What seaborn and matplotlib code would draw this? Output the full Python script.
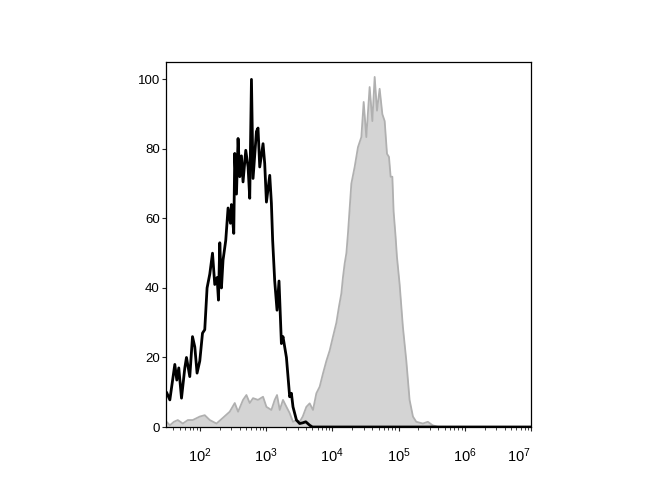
#!/usr/bin/env python3
import numpy as np
import pandas as pd
import matplotlib
matplotlib.use("Agg")
import matplotlib.pyplot as plt
import matplotlib.ticker as mticker
import seaborn as sns

# stained sample (gray filled), decades of fluorescence and % of max
gray_log = [1.498, 1.548, 1.61, 1.668, 1.744, 1.82, 1.894,
            2.0, 2.075, 2.151, 2.252, 2.347, 2.452, 2.528, 2.578, 2.653, 2.704, 2.754, 2.804, 2.879, 2.955,
            3.006, 3.081, 3.131, 3.166, 3.207, 3.256, 3.308, 3.357, 3.407, 3.459, 3.508, 3.554, 3.609, 3.659,
            3.709, 3.760, 3.810, 3.860, 3.911, 3.961,
            4.011, 4.062, 4.101, 4.137, 4.161, 4.187, 4.213, 4.237, 4.288, 4.338, 4.388, 4.439, 4.474, 4.514,
            4.564, 4.605, 4.640, 4.675, 4.715, 4.756, 4.791, 4.826, 4.856, 4.881, 4.907, 4.926, 4.956, 4.976,
            5.017, 5.066, 5.118, 5.167, 5.218, 5.268, 5.368, 5.443, 5.514, 5.6,
            6.0, 6.5, 7.0]
gray_val = [1.5, 0.5, 1.5, 2, 1, 2, 2,
            3, 3.4, 2, 1, 2.6, 4.4, 6.9, 4.4, 7.8, 9.2, 6.9, 8.3, 7.8, 8.7,
            5.8, 4.9, 7.8, 9.2, 4.9, 7.8, 5.8, 4, 1.5, 2, 1.5, 3, 5.8, 6.8,
            4.9, 9.7, 11.6, 15.4, 19, 22,
            26, 30, 34.6, 38.4, 43, 47, 50, 55.7, 70, 74.8, 80.5, 83.4, 93.5, 83.4,
            97.8, 88, 100.7, 91, 97.3, 90, 88, 78.6, 77.7, 72, 72, 62, 54.7, 49,
            41, 28.8, 19, 7.8, 3, 1.5, 1, 1.5, 0.5, 0,
            0, 0, 0]

# isotype control (black line)
black_log = [1.498, 1.548, 1.623, 1.653, 1.683, 1.724, 1.774, 1.799, 1.849, 1.890, 1.925, 1.959,
             2.0, 2.041, 2.075, 2.110, 2.151, 2.192, 2.226, 2.261, 2.282, 2.302, 2.327, 2.351, 2.392,
             2.427, 2.463, 2.478, 2.513, 2.528, 2.554, 2.578, 2.603, 2.629, 2.653, 2.694, 2.729, 2.754,
             2.780, 2.804, 2.855, 2.879, 2.905, 2.955, 2.980,
             3.006, 3.056, 3.081, 3.10, 3.131, 3.166, 3.196, 3.232, 3.256, 3.308, 3.357, 3.383, 3.407,
             3.459, 3.508, 3.554, 3.6, 3.659, 3.7,
             4.0, 5.0, 6.0, 7.0]
black_val = [10, 7.8, 18, 13.5, 17, 8.3, 17, 20, 14.5, 26, 23, 15.5,
             19, 27, 28, 40, 44, 50, 41, 43, 36.5, 53, 40, 48, 53.7,
             63, 58.6, 64, 55.7, 78.7, 67, 83, 72, 78, 70.5, 79.6, 74.8, 65.8,
             100, 71.5, 85, 86, 74.8, 81.5, 75.8,
             64.7, 72.4, 64.4, 53.7, 42, 33.6, 42, 24, 26, 20, 8.7, 9.7, 5.8,
             2, 1, 1.2, 1.5, 0.5, 0,
             0, 0, 0, 0]

x_decades = [2, 3, 4, 5, 6, 7]
y_ticks = [0, 20, 40, 60, 80, 100]

gray_df = pd.DataFrame({"fl": 10 ** np.array(gray_log), "count": gray_val})
black_df = pd.DataFrame({"fl": 10 ** np.array(black_log), "count": black_val})

sns.set_style("ticks")
plt.rcParams['font.family'] = ['Liberation Sans', 'DejaVu Sans']
plt.rcParams['mathtext.fontset'] = 'custom'
plt.rcParams['mathtext.rm'] = 'Liberation Sans'

fig = plt.figure(figsize=(6.7, 5), dpi=100)
ax = fig.add_axes([166 / 670, 1 - 427 / 500, (531 - 166) / 670, (427 - 62) / 500])

ax.fill_between(gray_df["fl"], 0, gray_df["count"], color="#d4d4d4", linewidth=0)
sns.lineplot(data=gray_df, x="fl", y="count", ax=ax, color="#b0b0b0", linewidth=1.3)
sns.lineplot(data=black_df, x="fl", y="count", ax=ax, color="black", linewidth=2.0)

ax.set_xscale("log")
ax.set_xlim(10 ** 1.49, 10 ** 7.0)
ax.set_ylim(0, 105)
ax.set_xlabel("")
ax.set_ylabel("")

ax.set_xticks([10 ** d for d in x_decades])
ax.set_xticklabels([r"$\mathregular{10^{%d}}$" % d for d in x_decades], fontsize=10.5, color="black")
ax.xaxis.set_minor_locator(mticker.LogLocator(base=10, subs=np.arange(2, 10)))
ax.xaxis.set_minor_formatter(mticker.NullFormatter())
ax.get_xticklabels()[-1].set_ha("right")

ax.set_yticks(y_ticks)
ax.set_yticklabels([str(v) for v in y_ticks], fontsize=9.5, color="black")

ax.tick_params(axis="x", which="major", length=3, width=0.8, pad=11, direction="out")
ax.tick_params(axis="x", which="minor", length=2, width=0.6, direction="out")
ax.tick_params(axis="y", length=3, width=0.8, pad=1.5, direction="out")

for side in ["left", "right", "top", "bottom"]:
    ax.spines[side].set_visible(True)
    ax.spines[side].set_linewidth(0.9)
    ax.spines[side].set_color("black")

fig.savefig("out.png", dpi=100)
